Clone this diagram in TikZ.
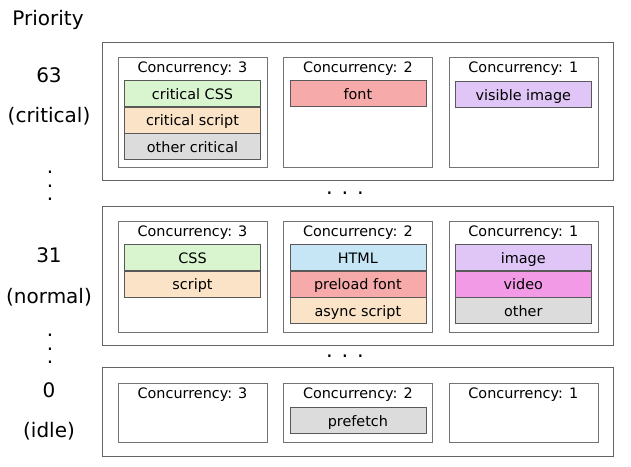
\documentclass[tikz,border=0pt]{standalone}
\usepackage{fontspec}
\setmainfont{DejaVu Sans}
\usepackage{xcolor}
\usetikzlibrary{positioning}
\definecolor{cssgreen}{RGB}{217, 245, 208}
\definecolor{scriptorange}{RGB}{250, 227, 198}
\definecolor{othergray}{RGB}{220, 220, 220}
\definecolor{fontred}{RGB}{246, 170, 170}
\definecolor{imagepurple}{RGB}{224, 198, 247}
\definecolor{htmlblue}{RGB}{198, 230, 246}
\definecolor{videopink}{RGB}{242, 154, 230}
\definecolor{framegray}{RGB}{100, 100, 100}

\begin{document}
\begin{tikzpicture}[
    x=1pt, y=-1pt,
    band/.style={rectangle, draw=framegray, minimum width=511pt, inner sep=0pt},
    lane/.style={rectangle, draw=framegray!90, minimum width=149pt, inner sep=0pt},
    lanetitle/.style={inner sep=0pt, text height=11pt, text depth=3pt, font=\fontsize{14.4}{16}\selectfont},
    item/.style={rectangle, draw=black!65, minimum width=136pt, minimum height=26pt, inner sep=0pt, text height=13pt, text depth=1pt, font=\fontsize{14.4}{16}\selectfont},
    level/.style={inner sep=0pt, font=\fontsize{20}{24}\selectfont},
    hdots/.style={inner sep=0pt, text height=3pt, text depth=0pt, font=\fontsize{21}{24}\selectfont},
    vdots/.style={inner sep=0pt, align=center, font=\fontsize{20}{13.5}\selectfont}
]
\useasboundingbox (0,0) rectangle (631,466);

% Priority labels
\node[level] (priority) at (48,20) {Priority};
\node[level] (p63) at (49,75) {63};
\node[level] (p63name) at (49,116) {(critical)};
\node[level] (p31) at (49,255) {31};
\node[level] (p31name) at (49,297) {(normal)};
\node[level] (p0) at (49,390) {0};
\node[level] (p0name) at (49,431) {(idle)};
\node[vdots] (gapleft1) at (50,186) {.\\.\\.};
\node[vdots] (gapleft2) at (50,349) {.\\.\\.};

% Priority bands
\node[band, minimum height=138pt] (band63) at (357.5,111) {};
\node[band, minimum height=139pt] (band31) at (357.5,275.5) {};
\node[band, minimum height=89pt] (band0) at (357.5,411.5) {};
\node[hdots] (gapmid1) at (345,193) {. . .};
\node[hdots] (gapmid2) at (345,356) {. . .};

% Critical
\node[lane, minimum height=110pt, below right=15pt and 16pt of band63.north west] (c63a) {};
\node[lane, minimum height=110pt, right=16pt of c63a] (c63b) {};
\node[lane, minimum height=110pt, right=16pt of c63b] (c63c) {};
\node[lanetitle, below=4pt of c63a.north] (t63a) {Concurrency: 3};
\node[lanetitle, below=4pt of c63b.north] (t63b) {Concurrency: 2};
\node[lanetitle, below=4pt of c63c.north] (t63c) {Concurrency: 1};
\node[item, fill=cssgreen, below=5pt of t63a] (critcss) {critical CSS};
\node[item, fill=scriptorange, below=0pt of critcss] (critscript) {critical script};
\node[item, fill=othergray, below=0pt of critscript] (critother) {other critical};
\node[item, fill=fontred, below=5pt of t63b] (font) {font};
\node[item, fill=imagepurple, below=6pt of t63c] (visimage) {visible image};

% Normal
\node[lane, minimum height=111pt, below right=15pt and 16pt of band31.north west] (c31a) {};
\node[lane, minimum height=111pt, right=16pt of c31a] (c31b) {};
\node[lane, minimum height=111pt, right=16pt of c31b] (c31c) {};
\node[lanetitle, below=4pt of c31a.north] (t31a) {Concurrency: 3};
\node[lanetitle, below=4pt of c31b.north] (t31b) {Concurrency: 2};
\node[lanetitle, below=4pt of c31c.north] (t31c) {Concurrency: 1};
\node[item, fill=cssgreen, below=5pt of t31a] (css) {CSS};
\node[item, fill=scriptorange, below=0pt of css] (script) {script};
\node[item, fill=htmlblue, below=5pt of t31b] (html) {HTML};
\node[item, fill=fontred, below=0pt of html] (preload) {preload font};
\node[item, fill=scriptorange, below=0pt of preload] (async) {async script};
\node[item, fill=imagepurple, below=5pt of t31c] (image) {image};
\node[item, fill=videopink, below=0pt of image] (video) {video};
\node[item, fill=othergray, below=0pt of video] (other) {other};

% Idle
\node[lane, minimum height=59pt, below right=16pt and 16pt of band0.north west] (c0a) {};
\node[lane, minimum height=59pt, right=16pt of c0a] (c0b) {};
\node[lane, minimum height=59pt, right=16pt of c0b] (c0c) {};
\node[lanetitle, below=4pt of c0a.north] (t0a) {Concurrency: 3};
\node[lanetitle, below=4pt of c0b.north] (t0b) {Concurrency: 2};
\node[lanetitle, below=4pt of c0c.north] (t0c) {Concurrency: 1};
\node[item, fill=othergray, below=6pt of t0b] (prefetch) {prefetch};
\end{tikzpicture}
\end{document}
